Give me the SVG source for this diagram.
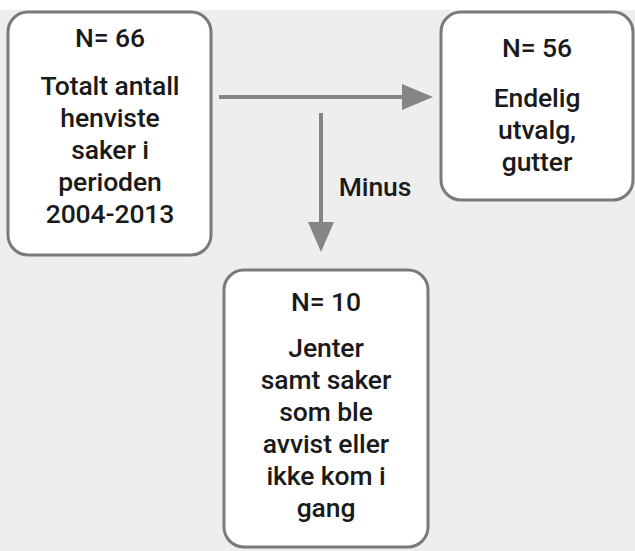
<svg xmlns="http://www.w3.org/2000/svg" width="635" height="551" viewBox="0 0 635 551">
  <style>
    .box { fill: #ffffff; stroke: #7a7a7a; stroke-width: 3; }
    .t { font-family: Roboto, "Liberation Sans", sans-serif; font-size: 26.5px; font-weight: 500; fill: #1a1a1a; text-anchor: middle; letter-spacing: -0.1px; }
    .conn { stroke: #858585; stroke-width: 4; fill: none; }
    .head { fill: #858585; }
  </style>
  <rect x="0" y="0" width="635" height="551" fill="#ffffff"/>
  <rect x="0" y="10" width="635" height="541" fill="#eeeeee"/>

  <g id="connectors">
    <line class="conn" x1="219" y1="97" x2="404" y2="97"/>
    <path class="head" d="M402,84 L433,97 L402,110 Z"/>
    <line class="conn" x1="321" y1="113" x2="321" y2="224"/>
    <path class="head" d="M308,222 L321,252 L334,222 Z"/>
    <text class="t" x="375" y="196">Minus</text>
  </g>

  <g id="node-total">
    <rect class="box" x="8" y="12" width="203" height="243" rx="20"/>
    <text class="t" x="110" y="47">N= 66</text>
    <text class="t" x="110" y="95">Totalt antall</text>
    <text class="t" x="110" y="127">henviste</text>
    <text class="t" x="110" y="159">saker i</text>
    <text class="t" x="110" y="191">perioden</text>
    <text class="t" x="110" y="223">2004-2013</text>
  </g>

  <g id="node-final">
    <rect class="box" x="441" y="12" width="192" height="188" rx="20"/>
    <text class="t" x="537" y="57">N= 56</text>
    <text class="t" x="537" y="107">Endelig</text>
    <text class="t" x="537" y="139">utvalg,</text>
    <text class="t" x="537" y="171">gutter</text>
  </g>

  <g id="node-excluded">
    <rect class="box" x="224" y="270" width="204" height="277" rx="20"/>
    <text class="t" x="326" y="311">N= 10</text>
    <text class="t" x="326" y="357">Jenter</text>
    <text class="t" x="326" y="389">samt saker</text>
    <text class="t" x="326" y="421">som ble</text>
    <text class="t" x="326" y="453">avvist eller</text>
    <text class="t" x="326" y="485">ikke kom i</text>
    <text class="t" x="326" y="517">gang</text>
  </g>
</svg>
